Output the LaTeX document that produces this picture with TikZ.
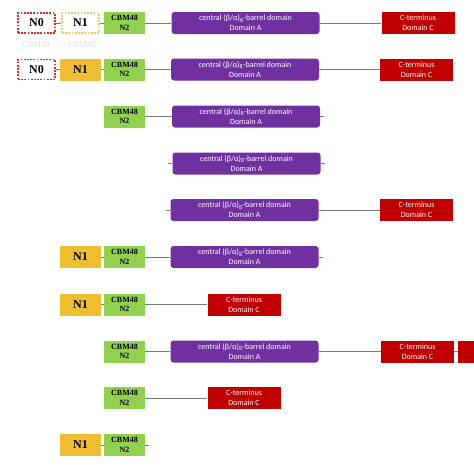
\documentclass[tikz,border=0pt]{standalone}
\usepackage{fontspec}
\setmainfont{Liberation Serif}
\newfontfamily\calibfont{Carlito}
\usetikzlibrary{positioning}
\definecolor{domainpurple}{RGB}{112,48,160}
\definecolor{domainred}{RGB}{192,0,0}
\definecolor{cbmgreen}{RGB}{146,208,80}
\definecolor{nyellow}{RGB}{240,190,50}
\definecolor{dotred}{RGB}{220,40,40}
\definecolor{linkgray}{RGB}{120,120,120}
\newcommand{\doatext}{central (β/α)\textsubscript{8}-barrel domain\\Domain A}
\newcommand{\doctext}{C-terminus\\Domain C}

\begin{document}
\begin{tikzpicture}[x=1pt, y=-1pt,
    box/.style={minimum height=22pt, inner sep=0pt, align=center},
    doma/.style={box, fill=domainpurple, rounded corners=3pt, minimum width=148pt,
      text=white, font=\calibfont\fontsize{8}{10}\selectfont},
    domc/.style={box, fill=domainred, minimum width=73pt,
      text=white, font=\calibfont\fontsize{8}{10}\selectfont},
    cbm/.style={box, fill=cbmgreen, minimum width=41pt,
      font=\bfseries\fontsize{8}{9.5}\selectfont},
    nfull/.style={box, fill=nyellow, minimum width=41pt,
      font=\bfseries\fontsize{12}{14}\selectfont},
    nghost/.style={box, fill=white, draw=#1, dash pattern=on 1.8pt off 1.4pt,
      line width=1.8pt, minimum width=37pt, minimum height=20pt,
      font=\bfseries\fontsize{12}{14}\selectfont},
    link/.style={draw=linkgray, line width=1pt},
    ghostlab/.style={text=gray!28, font=\fontsize{8.5}{10}\selectfont}]
  \useasboundingbox (0,0) rectangle (474,474);
  \clip (0,0) rectangle (474,474);
  % row 1
  \node[nghost=dotred] (n0a) at (36.5,23) {N0};
  \node[nghost=nyellow!80] (n1a) at (80.5,23) {N1};
  \node[cbm] (cbma) at (124.5,23) {CBM48\\N2};
  \node[doma] (pura) at (245.5,23) {\doatext};
  \node[domc] (reda) at (418,23) {\doctext};
  \node[ghostlab] (laba) at (36,45) {CBM48};
  \node[ghostlab] (labb) at (82,45) {CBM48};
  \draw[link] (n0a) -- (n1a) (n1a) -- (cbma) (cbma) -- (pura) (pura) -- (reda);
  % row 2
  \node[nghost=dotred] (n0b) at (36.5,69.5) {N0};
  \node[nfull] (n1b) at (80.5,69.5) {N1};
  \node[cbm] (cbmb) at (124.5,69.5) {CBM48\\N2};
  \node[doma] (purb) at (245,69.5) {\doatext};
  \node[domc] (redb) at (416.5,69.5) {\doctext};
  \draw[link] (n0b) -- (n1b) (n1b) -- (cbmb) (cbmb) -- (purb) (purb) -- (redb);
  % row 3
  \node[cbm] (cbmc) at (124.5,116.5) {CBM48\\N2};
  \node[doma] (purc) at (246,116.5) {\doatext};
  \coordinate (endc) at (324,116.5);
  \draw[link] (cbmc) -- (purc) (purc) -- (endc);
  % row 4
  \node[doma] (purd) at (246.5,163.5) {\doatext};
  \coordinate (begd) at (168,163.5);
  \coordinate (endd) at (325,163.5);
  \draw[link] (begd) -- (purd) (purd) -- (endd);
  % row 5
  \node[doma] (pure) at (244.5,210) {\doatext};
  \node[domc] (rede) at (416.5,210) {\doctext};
  \coordinate (bege) at (166,210);
  \draw[link] (bege) -- (pure) (pure) -- (rede);
  % row 6
  \node[nfull] (n1f) at (80.5,257) {N1};
  \node[cbm] (cbmf) at (124.5,257) {CBM48\\N2};
  \node[doma] (purf) at (244.5,257) {\doatext};
  \coordinate (endf) at (323,257);
  \draw[link] (n1f) -- (cbmf) (cbmf) -- (purf) (purf) -- (endf);
  % row 7
  \node[nfull] (n1g) at (80.5,304.5) {N1};
  \node[cbm] (cbmg) at (124.5,304.5) {CBM48\\N2};
  \node[domc] (redg) at (244,304.5) {\doctext};
  \draw[link] (n1g) -- (cbmg) (cbmg) -- (redg);
  % row 8
  \node[cbm] (cbmh) at (124.5,351.5) {CBM48\\N2};
  \node[doma] (purh) at (244.5,351.5) {\doatext};
  \node[domc] (redh) at (417.5,351.5) {\doctext};
  \node[domc, anchor=west] (redi) at (457.5,351.5) {};
  \draw[link] (cbmh) -- (purh) (purh) -- (redh) (redh) -- (redi);
  % row 9
  \node[cbm] (cbmj) at (124.5,398) {CBM48\\N2};
  \node[domc] (redj) at (244,398) {\doctext};
  \draw[link] (cbmj) -- (redj);
  % row 10
  \node[nfull] (n1k) at (80.5,445) {N1};
  \node[cbm] (cbmk) at (124.5,445) {CBM48\\N2};
  \coordinate (endk) at (149,445);
  \draw[link] (n1k) -- (cbmk) (cbmk) -- (endk);
\end{tikzpicture}
\end{document}
